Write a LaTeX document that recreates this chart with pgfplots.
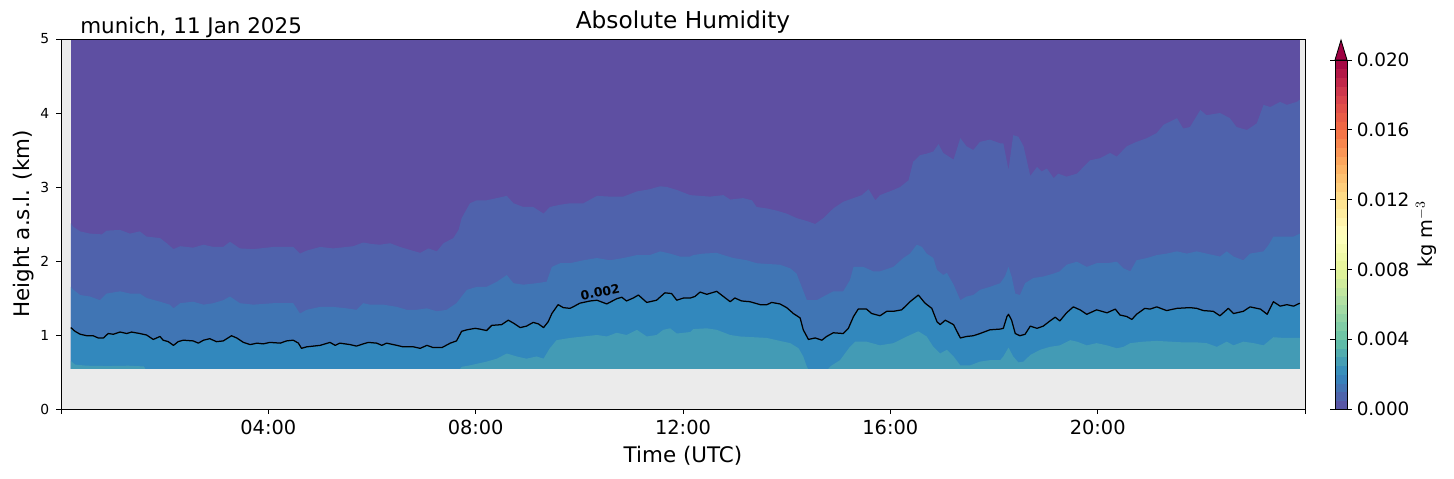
\documentclass[border=0pt]{standalone}
\usepackage{fontspec}
\setmainfont{DejaVu Sans}
\usepackage{pgfplots}
\pgfplotsset{compat=1.18}
\usepackage{pgfplotstable}

\definecolor{bggray}{RGB}{235,235,235}
\definecolor{bandtop}{RGB}{94,79,162}
\definecolor{bandA}{RGB}{79,98,172}
\definecolor{bandB}{RGB}{64,117,180}
\definecolor{bandC}{RGB}{50,136,189}
\definecolor{bandD}{RGB}{67,155,181}
\definecolor{extcol}{RGB}{158,1,66}

\pgfplotsset{
  colormap={spectralr}{rgb255=(94,79,162) rgb255=(50,136,189) rgb255=(102,194,165)
    rgb255=(171,221,164) rgb255=(230,245,152) rgb255=(255,255,191) rgb255=(254,224,139)
    rgb255=(253,174,97) rgb255=(244,109,67) rgb255=(213,62,79) rgb255=(158,1,66)},
}

% boundary purple / blue-purple
\pgfplotstableread{
t h
0.19 2.51
0.24 2.46
0.37 2.40
0.56 2.37
0.79 2.36
0.88 2.41
1.14 2.42
1.33 2.37
1.52 2.40
1.65 2.33
1.91 2.31
2.04 2.24
2.17 2.16
2.30 2.20
2.55 2.18
2.75 2.22
2.94 2.19
3.13 2.19
3.26 2.26
3.45 2.17
3.71 2.16
4.10 2.19
4.48 2.19
4.61 2.10
4.74 2.14
5.00 2.19
5.25 2.17
5.51 2.19
5.64 2.20
5.83 2.25
5.99 2.23
6.15 2.22
6.35 2.24
6.54 2.19
6.73 2.15
6.93 2.11
7.09 2.17
7.25 2.13
7.38 2.24
7.57 2.31
7.67 2.42
7.73 2.58
7.89 2.78
8.02 2.82
8.21 2.82
8.41 2.85
8.60 2.88
8.73 2.78
8.92 2.73
9.11 2.73
9.31 2.64
9.43 2.73
9.63 2.76
9.82 2.78
10.08 2.78
10.34 2.88
10.59 2.87
10.85 2.87
11.11 2.94
11.36 2.97
11.56 3.01
11.69 3.00
11.88 2.96
12.14 2.89
12.33 2.88
12.52 2.87
12.78 2.89
12.91 2.83
13.16 2.85
13.33 2.82
13.42 2.73
13.62 2.71
13.81 2.68
14.00 2.64
14.19 2.58
14.39 2.54
14.55 2.50
14.71 2.58
14.90 2.71
15.09 2.80
15.29 2.85
15.45 2.89
15.58 2.97
15.71 2.82
15.80 2.89
16.06 2.96
16.19 3.00
16.35 3.09
16.44 3.34
16.57 3.43
16.70 3.45
16.83 3.48
16.93 3.58
17.02 3.46
17.22 3.37
17.35 3.66
17.47 3.55
17.60 3.50
17.73 3.61
17.92 3.64
18.12 3.59
18.18 3.59
18.28 3.23
18.37 3.70
18.47 3.68
18.57 3.55
18.70 3.15
18.83 3.27
18.92 3.21
19.02 3.25
19.15 3.12
19.24 3.18
19.40 3.14
19.60 3.18
19.85 3.36
20.05 3.39
20.24 3.46
20.37 3.41
20.56 3.55
20.75 3.61
20.95 3.66
21.14 3.73
21.27 3.84
21.53 3.93
21.65 3.79
21.78 3.81
21.98 4.04
22.10 3.97
22.36 4.00
22.55 3.93
22.68 3.81
22.88 3.77
23.07 3.86
23.20 4.11
23.33 4.08
23.52 4.15
23.65 4.11
23.84 4.15
23.90 4.18
}\curveA

% boundary blue-purple / steel blue
\pgfplotstableread{
t h
0.19 1.65
0.24 1.61
0.37 1.54
0.56 1.52
0.75 1.47
0.88 1.56
1.14 1.59
1.33 1.56
1.52 1.56
1.65 1.50
1.91 1.45
2.10 1.41
2.17 1.36
2.30 1.43
2.55 1.45
2.75 1.41
2.94 1.43
3.13 1.47
3.26 1.52
3.45 1.43
3.71 1.41
4.10 1.43
4.48 1.43
4.61 1.29
4.74 1.34
5.00 1.38
5.25 1.38
5.51 1.36
5.70 1.34
5.83 1.43
5.96 1.41
6.22 1.41
6.48 1.38
6.67 1.34
6.86 1.34
7.06 1.36
7.25 1.32
7.44 1.34
7.63 1.43
7.83 1.61
8.02 1.65
8.21 1.65
8.41 1.72
8.60 1.81
8.73 1.70
8.92 1.68
9.18 1.70
9.37 1.72
9.47 1.92
9.63 1.97
9.82 1.97
10.08 2.01
10.34 2.04
10.59 2.01
10.85 2.04
11.11 2.08
11.36 2.08
11.56 2.13
11.75 2.10
11.94 2.06
12.14 2.06
12.20 2.08
12.39 2.10
12.65 2.11
12.78 2.08
12.97 2.04
13.23 2.01
13.42 1.97
13.62 1.96
13.87 1.95
14.07 1.90
14.19 1.83
14.29 1.65
14.39 1.47
14.58 1.47
14.71 1.52
14.90 1.59
15.09 1.59
15.22 1.74
15.29 1.92
15.48 1.92
15.67 1.86
15.80 1.86
16.06 1.92
16.25 2.04
16.38 2.10
16.51 2.22
16.61 2.19
16.70 2.10
16.83 2.04
16.90 1.88
17.02 1.81
17.09 1.84
17.22 1.68
17.35 1.47
17.47 1.52
17.60 1.54
17.73 1.61
17.92 1.65
18.12 1.70
18.21 1.79
18.28 1.92
18.34 1.79
18.41 1.56
18.50 1.54
18.60 1.70
18.76 1.77
18.95 1.79
19.15 1.83
19.27 1.86
19.40 1.95
19.60 1.99
19.79 1.92
19.98 1.97
20.18 1.97
20.37 1.99
20.50 1.90
20.63 1.86
20.75 2.01
20.95 2.04
21.14 2.08
21.33 2.10
21.53 2.13
21.72 2.10
21.91 2.13
22.10 2.10
22.36 2.06
22.49 2.13
22.62 2.06
22.81 2.01
22.94 2.10
23.20 2.13
23.30 2.22
23.39 2.33
23.59 2.33
23.78 2.33
23.90 2.37
}\curveB

% contour 0.002
\pgfplotstableread{
t h
0.19 1.10
0.27 1.05
0.37 1.01
0.50 0.99
0.62 0.99
0.72 0.96
0.82 0.96
0.91 1.02
1.01 1.01
1.14 1.04
1.27 1.02
1.36 1.04
1.52 1.02
1.65 1.00
1.78 0.94
1.91 0.98
1.97 0.93
2.07 0.91
2.17 0.86
2.26 0.91
2.36 0.93
2.55 0.92
2.65 0.89
2.75 0.93
2.87 0.95
3.00 0.91
3.13 0.92
3.29 0.99
3.39 0.96
3.52 0.90
3.65 0.87
3.78 0.89
3.90 0.88
4.03 0.90
4.23 0.89
4.35 0.92
4.48 0.93
4.58 0.89
4.64 0.82
4.74 0.84
5.00 0.86
5.19 0.90
5.29 0.86
5.38 0.89
5.58 0.87
5.70 0.85
5.83 0.88
5.93 0.90
6.09 0.89
6.19 0.86
6.28 0.89
6.48 0.86
6.60 0.84
6.80 0.84
6.93 0.82
7.06 0.86
7.18 0.83
7.35 0.83
7.51 0.89
7.63 0.92
7.73 1.05
7.83 1.07
7.99 1.09
8.08 1.08
8.21 1.06
8.31 1.13
8.50 1.14
8.63 1.20
8.73 1.16
8.86 1.10
8.98 1.12
9.11 1.17
9.21 1.15
9.31 1.10
9.40 1.18
9.47 1.29
9.59 1.41
9.69 1.37
9.82 1.36
9.88 1.38
10.01 1.43
10.21 1.46
10.34 1.47
10.53 1.42
10.72 1.49
10.82 1.51
10.91 1.46
11.04 1.50
11.14 1.54
11.30 1.44
11.49 1.47
11.65 1.57
11.78 1.56
11.88 1.47
12.01 1.50
12.14 1.50
12.23 1.52
12.33 1.58
12.46 1.55
12.65 1.59
12.78 1.52
12.91 1.45
13.00 1.50
13.13 1.46
13.29 1.45
13.49 1.41
13.62 1.41
13.71 1.44
13.87 1.42
14.00 1.37
14.13 1.29
14.26 1.23
14.32 1.07
14.42 0.94
14.55 0.96
14.68 0.93
14.77 0.98
14.90 1.03
15.09 1.02
15.19 1.09
15.29 1.25
15.38 1.35
15.54 1.35
15.64 1.29
15.80 1.26
15.93 1.32
16.06 1.32
16.22 1.34
16.38 1.45
16.54 1.54
16.67 1.43
16.80 1.36
16.90 1.18
16.96 1.14
17.06 1.20
17.22 1.14
17.35 0.96
17.47 0.98
17.60 0.99
17.73 1.02
17.92 1.07
18.12 1.08
18.18 1.09
18.25 1.25
18.28 1.28
18.34 1.20
18.41 1.02
18.50 0.99
18.60 1.01
18.70 1.12
18.83 1.09
18.95 1.12
19.08 1.19
19.18 1.24
19.27 1.19
19.40 1.30
19.53 1.38
19.66 1.34
19.79 1.28
19.98 1.34
20.18 1.30
20.34 1.35
20.43 1.27
20.56 1.25
20.66 1.21
20.75 1.28
20.91 1.36
21.01 1.35
21.14 1.38
21.33 1.33
21.53 1.36
21.78 1.37
21.91 1.36
22.04 1.33
22.23 1.32
22.36 1.26
22.52 1.36
22.62 1.29
22.81 1.32
22.94 1.38
23.14 1.35
23.27 1.28
23.39 1.45
23.52 1.39
23.65 1.41
23.78 1.39
23.90 1.43
}\curveC

% boundary cerulean / teal
\pgfplotstableread{
t h
0.19 0.65
0.27 0.60
0.50 0.585
0.90 0.58
1.30 0.585
1.60 0.575
1.66 0.50
7.65 0.50
7.73 0.57
7.89 0.59
8.21 0.64
8.41 0.68
8.60 0.75
8.79 0.71
8.98 0.68
9.18 0.71
9.31 0.68
9.43 0.82
9.56 0.93
9.82 0.96
10.08 0.98
10.34 1.00
10.53 0.98
10.72 1.03
10.91 1.00
11.11 1.07
11.30 0.98
11.49 1.00
11.62 1.07
11.75 1.09
11.88 1.02
12.14 1.04
12.20 1.08
12.46 1.09
12.65 1.07
12.91 1.00
13.10 0.98
13.36 0.97
13.62 0.96
13.87 0.92
14.07 0.89
14.23 0.82
14.32 0.71
14.39 0.57
14.45 0.50
14.75 0.50
14.85 0.58
15.03 0.66
15.22 0.84
15.32 0.91
15.54 0.91
15.80 0.86
16.06 0.89
16.32 0.98
16.54 1.05
16.70 0.98
16.83 0.84
16.96 0.75
17.09 0.80
17.22 0.71
17.35 0.59
17.54 0.59
17.73 0.64
17.92 0.66
18.12 0.66
18.18 0.71
18.28 0.83
18.37 0.71
18.47 0.63
18.57 0.64
18.70 0.73
18.89 0.80
19.08 0.84
19.27 0.86
19.47 0.93
19.60 0.91
19.79 0.86
19.98 0.89
20.18 0.86
20.37 0.82
20.50 0.84
20.63 0.89
20.88 0.91
21.14 0.92
21.40 0.91
21.65 0.90
21.91 0.90
22.10 0.89
22.30 0.84
22.49 0.91
22.62 0.86
22.81 0.91
23.01 0.89
23.20 0.86
23.39 0.97
23.59 0.96
23.90 0.96
}\curveD

\begin{document}
\begin{tikzpicture}
\path[use as bounding box] (-43.92bp,-49.68bp) rectangle (1002.96bp,294.48bp);
\begin{axis}[
  at={(0,0)}, anchor=south west,
  scale only axis, width=895.68bp, height=266.4bp,
  xmin=0, xmax=24, ymin=0, ymax=5,
  clip mode=individual,
  xtick={0,4,8,12,16,20,24},
  xticklabels={,04:00,08:00,12:00,16:00,20:00,},
  ytick={0,1,2,3,4,5},
  tick align=outside, xtick pos=bottom, ytick pos=left,
  major tick length=3.5bp,
  axis background/.style={fill=bggray},
  axis on top,
  axis line style={line width=0.6bp},
  every tick/.style={black, line width=0.6bp},
  xlabel={Time (UTC)}, ylabel={Height a.s.l. (km)},
  label style={font=\fontsize{15.5}{18}\selectfont},
  xlabel style={at={(axis description cs:0.5,0)}, anchor=base, yshift=-38.7bp},
  ylabel style={at={(axis description cs:0,0.5)}, anchor=base, yshift=23bp},
  xticklabel style={font=\fontsize{14}{16}\selectfont, yshift=-1bp},
  yticklabel style={font=\fontsize{10}{12}\selectfont, xshift=-1.5bp},
  /pgf/number format/assume math mode=true,
  point meta min=0, point meta max=0.02,
  colormap name=spectralr,
  colorbar shift/.style={xshift=21.6bp},
  colorbar sampled,
  colorbar style={
    at={(parent axis.south east)}, anchor=south west,
    scale only axis, width=8.64bp, height=251.3bp,
    samples=41,
    ytick={0,0.004,0.008,0.012,0.016,0.02},
    scaled y ticks=false,
    yticklabel style={font=\fontsize{13.3}{15}\selectfont,
      /pgf/number format/.cd, fixed, fixed zerofill, precision=3, assume math mode=true},
    ylabel={kg m$^{-3}$},
    ylabel style={font=\fontsize{14}{16}\selectfont, at={(axis description cs:1,0.5)}, anchor=base, yshift=-61.2bp},
    tick align=outside, major tick length=3.5bp,
    axis line style={line width=0.6bp},
    every tick/.style={black, line width=0.6bp},
    after end axis/.code={
      \draw[fill=extcol, line width=0.6bp] (rel axis cs:0,1) -- (rel axis cs:0.5,1.057) -- (rel axis cs:1,1) -- cycle;
    },
  },
]
\addplot[draw=none, fill=bandtop] coordinates {(0.19,5) (23.90,5)} \closedcycle;
\addplot[draw=none, fill=bandA] table[x=t, y=h] {\curveA} \closedcycle;
\addplot[draw=none, fill=bandB] table[x=t, y=h] {\curveB} \closedcycle;
\addplot[draw=none, fill=bandC] table[x=t, y=h] {\curveC} \closedcycle;
\addplot[draw=none, fill=bandD] table[x=t, y=h] {\curveD} \closedcycle;
\addplot[draw=none, fill=bggray] coordinates {(0,0.54) (24,0.54)} \closedcycle;
\addplot[black, line width=0.9bp, line join=round] table[x=t, y=h] {\curveC};
\node[font=\bfseries\fontsize{9}{10}\selectfont, rotate=11, inner sep=0pt] at (axis cs:10.4,1.58) {0.002};
\node[font=\fontsize{16.8}{19}\selectfont, anchor=base, inner sep=0pt] at (rel axis cs:0.5,1) [yshift=7.7bp] {Absolute Humidity};
\node[font=\fontsize{15.5}{18}\selectfont, anchor=base west, inner sep=0pt] at (rel axis cs:0,1) [xshift=13.7bp, yshift=4.1bp] {munich, 11 Jan 2025};
\end{axis}
\end{tikzpicture}
\end{document}
